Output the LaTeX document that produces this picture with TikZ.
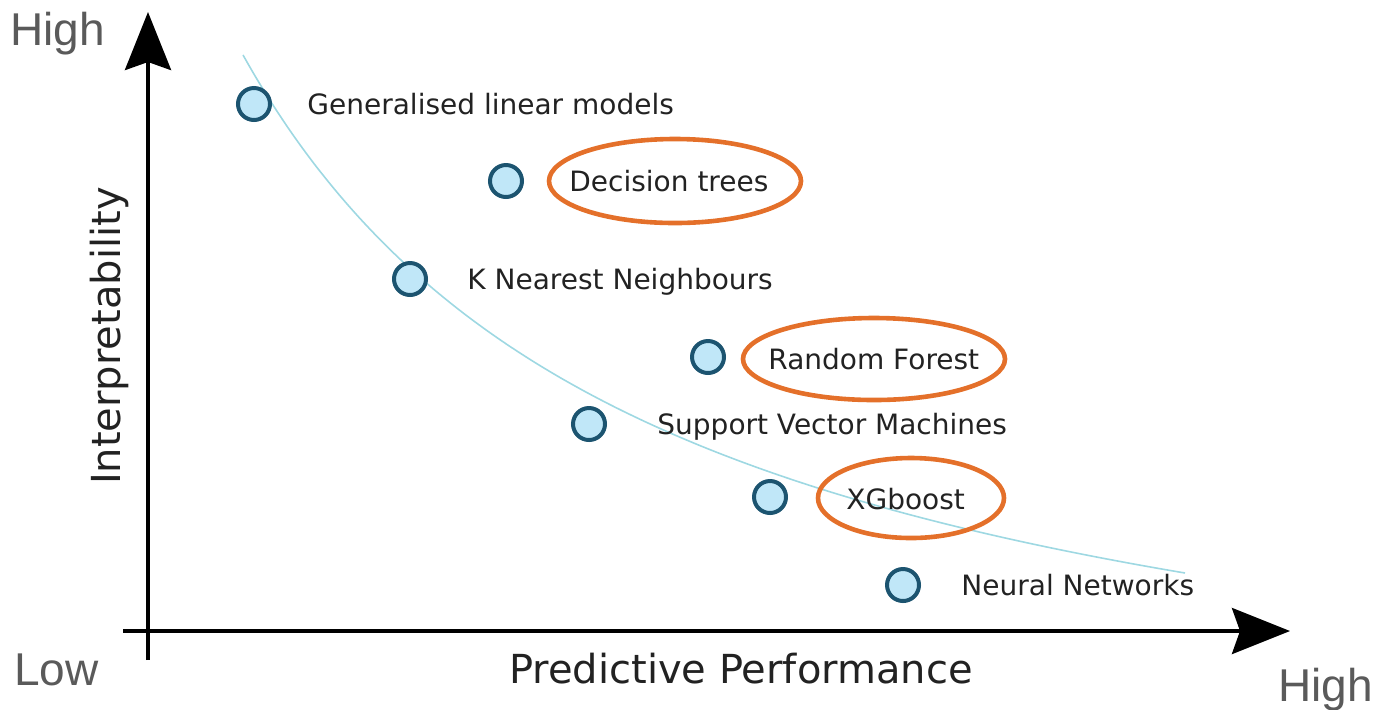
\documentclass[tikz,border=0pt]{standalone}
\usepackage{fontspec}
\setmainfont{DejaVu Sans}
\newfontfamily\arialfont{Liberation Sans}
\usetikzlibrary{arrows.meta,shapes.geometric}

\definecolor{dotfill}{HTML}{C0E7F8}
\definecolor{dotedge}{HTML}{1C5470}
\definecolor{trend}{HTML}{9ED8E2}
\definecolor{ringorange}{HTML}{E4702A}
\definecolor{labeltext}{HTML}{222222}
\definecolor{endtext}{HTML}{5A5A5A}

\tikzset{
  dot/.style={circle, draw=dotedge, fill=dotfill, line width=2pt,
    minimum size=16pt, inner sep=0pt},
  modellabel/.style={anchor=base west, inner sep=0pt, text=labeltext,
    font=\fontsize{14}{16}\selectfont},
  axistitle/.style={anchor=base, inner sep=0pt, text=labeltext,
    font=\fontsize{20}{24}\selectfont},
  endlabel/.style={anchor=base west, inner sep=0pt, text=endtext,
    font=\arialfont\fontsize{23}{27}\selectfont},
  ring/.style={ellipse, draw=ringorange, line width=2.3pt, inner sep=0pt},
  axisline/.style={line width=2pt, black,
    -{Stealth[length=29pt, width=23pt, inset=4pt]}},
}

\begin{document}
\begin{tikzpicture}[x=0.5pt, y=-0.5pt]
  \useasboundingbox (0,0) rectangle (1375,709);

  % trade-off curve: a hyperbola y = 802.9 - 312690/(x + 175.1)
  \draw[trend, line width=0.8pt] plot[domain=243:1185, samples=90, smooth]
    (\x, {802.9 - 312.69/((\x + 175.1)/1000)});

  % axes
  \coordinate (yfoot) at (148,660);
  \coordinate (ytip)  at (148,12);
  \coordinate (xfoot) at (123,631);
  \coordinate (xtip)  at (1290,631);
  \draw[axisline] (yfoot) -- (ytip);
  \draw[axisline] (xfoot) -- (xtip);

  % models
  \node[dot] (glm) at (254,104) {};
  \node[dot] (dt)  at (506,181) {};
  \node[dot] (knn) at (410,279) {};
  \node[dot] (rf)  at (708,357) {};
  \node[dot] (svm) at (589,424) {};
  \node[dot] (xg)  at (770,497) {};
  \node[dot] (nn)  at (903,585) {};

  \node[modellabel] (glmlabel) at (307,114) {Generalised linear models};
  \node[modellabel] (dtlabel)  at (569,191) {Decision trees};
  \node[modellabel] (knnlabel) at (467,289) {K Nearest Neighbours};
  \node[modellabel] (rflabel)  at (768,369) {Random Forest};
  \node[modellabel] (svmlabel) at (657,434) {Support Vector Machines};
  \node[modellabel] (xglabel)  at (846,509) {XGboost};
  \node[modellabel] (nnlabel)  at (961,595) {Neural Networks};

  % highlighted models
  \node[ring, minimum width=126pt, minimum height=42pt] (dtring) at (675,181) {};
  \node[ring, minimum width=131pt, minimum height=41pt] (rfring) at (874,359) {};
  \node[ring, minimum width=93pt,  minimum height=40pt] (xgring) at (911,498) {};

  % axis titles
  \node[axistitle, rotate=90] (ytitle) at (120,336) {Interpretability};
  \node[axistitle] (xtitle) at (741,683) {Predictive Performance};

  \node[endlabel] (yhigh) at (10,45) {High};
  \node[endlabel] (low)   at (14,685) {Low};
  \node[endlabel] (xhigh) at (1278,701) {High};
\end{tikzpicture}
\end{document}
